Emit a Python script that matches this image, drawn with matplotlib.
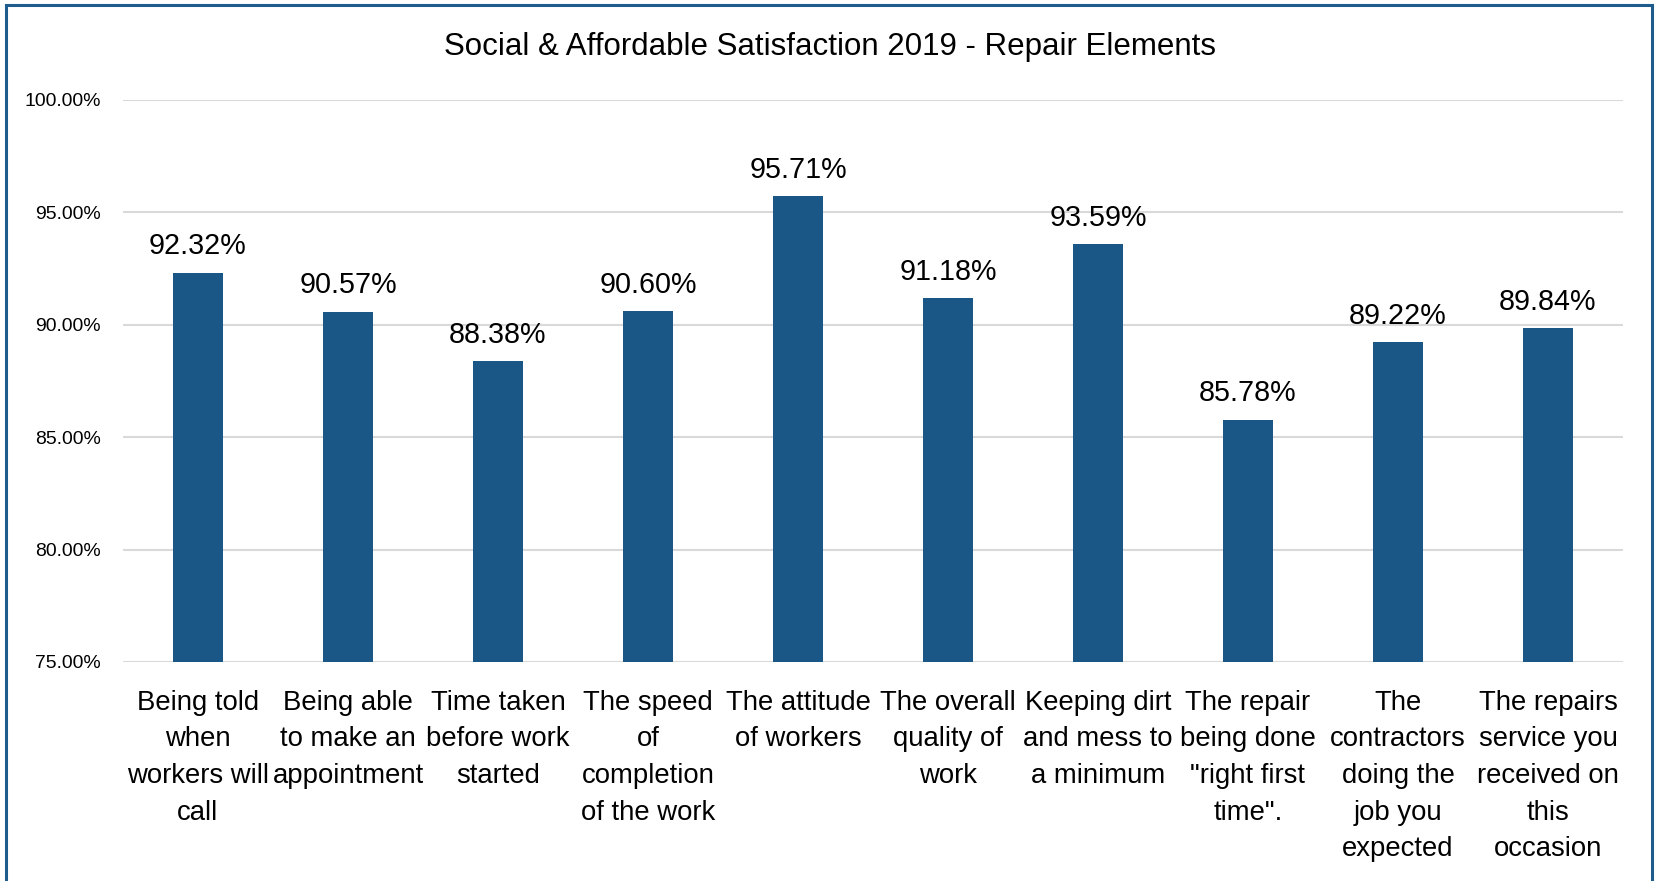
import numpy as np
import matplotlib.pyplot as plt
from matplotlib import font_manager
from matplotlib.patches import Rectangle

installed = {f.name for f in font_manager.fontManager.ttflist}
narrow = 'Liberation Sans Narrow' in installed
plt.rcParams['font.family'] = ['Liberation Sans Narrow' if narrow else 'Liberation Sans', 'DejaVu Sans']
# narrow face is tighter, so it can take the full size
k = 1.0 if narrow else 0.9

# repair element satisfaction scores (%)
categories = [
    "Being told\nwhen\nworkers will\ncall",
    "Being able\nto make an\nappointment",
    "Time taken\nbefore work\nstarted",
    "The speed\nof\ncompletion\nof the work",
    "The attitude\nof workers",
    "The overall\nquality of\nwork",
    "Keeping dirt\nand mess to\na minimum",
    "The repair\nbeing done\n\"right first\ntime\".",
    "The\ncontractors\ndoing the\njob you\nexpected",
    "The repairs\nservice you\nreceived on\nthis\noccasion",
]
scores = [92.32, 90.57, 88.38, 90.60, 95.71, 91.18, 93.59, 85.78, 89.22, 89.84]
yticks = [75, 80, 85, 90, 95, 100]

W, H = 1655, 881
fig = plt.figure(figsize=(W / 100, H / 100), dpi=100)
ax = fig.add_axes([123 / W, 1 - 662 / H, 1500 / W, 562 / H])

bar_color = '#1a5686'
x = np.arange(len(categories))
ax.bar(x, scores, width=0.33, color=bar_color, zorder=3)

for xi, v in zip(x, scores):
    ax.annotate(f"{v:.2f}%", (xi, v), xytext=(0, 9), textcoords='offset points',
                ha='center', va='bottom', fontsize=23 * k)

ax.set_xlim(-0.5, len(categories) - 0.5)
ax.set_ylim(75, 100)
ax.set_yticks(yticks)
ax.set_yticklabels([f"{t:.2f}%" for t in yticks], fontsize=15.5 * k)
ax.set_xticks(x)
ax.set_xticklabels(categories, fontsize=22 * k, linespacing=1.38 / k)
ax.tick_params(axis='both', length=0)
ax.tick_params(axis='y', pad=16)
ax.tick_params(axis='x', pad=20)
ax.grid(axis='y', color='#d9d9d9', linewidth=1.5, zorder=0)
for s in ax.spines.values():
    s.set_visible(False)

fig.text(830 / W, 1 - 47 / H, "Social & Affordable Satisfaction 2019 - Repair Elements",
         ha='center', va='center', fontsize=25 * k)

# outer frame
fig.patches.append(Rectangle((6 / W, -0.05), (1646 / W), 1.05 - 5 / H,
                             transform=fig.transFigure, fill=False,
                             edgecolor='#1f5c8e', linewidth=2.2))

fig.savefig('out.png', dpi=100)
